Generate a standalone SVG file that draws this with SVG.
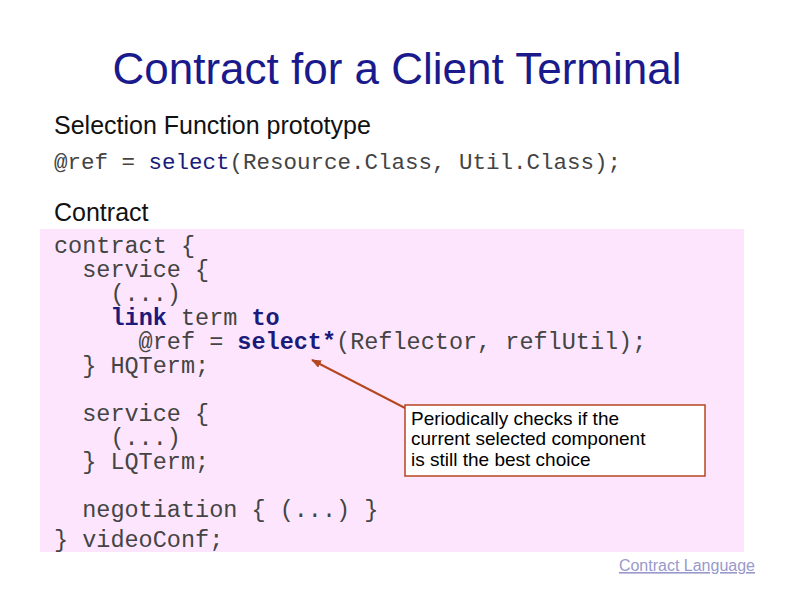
<svg xmlns="http://www.w3.org/2000/svg" width="794" height="595" viewBox="0 0 794 595">
<style>
.m{font-family:"Liberation Mono","Courier New",monospace;font-size:23.5px;fill:#444;white-space:pre}
.b{fill:#1a1a7a;font-weight:bold}
.n{fill:#1a1a7a}
.s{font-family:"Liberation Sans",Arial,sans-serif}
</style>
<defs><marker id="a" markerWidth="10" markerHeight="8" refX="9" refY="4" orient="auto" markerUnits="userSpaceOnUse"><path d="M0,0L10,4L0,8z" fill="#b5461f"/></marker></defs>
<rect width="794" height="595" fill="#fff"/>
<g id="title"><text x="397" y="84" text-anchor="middle" class="s" font-size="44" fill="#1a1a8c">Contract for a Client Terminal</text></g>
<g id="head">
<text x="54" y="134" class="s" font-size="25" fill="#111">Selection Function prototype</text>
<text x="54" y="169" class="m" style="font-size:22.5px">@ref = <tspan class="n">select</tspan>(Resource.Class, Util.Class);</text>
<text x="54" y="221" class="s" font-size="25" fill="#111">Contract</text>
</g>
<g id="code">
<rect x="40" y="229" width="704" height="323" fill="#fde6fd"/>
<text class="m"><tspan x="54" y="253">contract {</tspan><tspan x="54" y="277">  service {</tspan><tspan x="54" y="301">    (...)</tspan><tspan x="54" y="325">    <tspan class="b">link</tspan> term <tspan class="b">to</tspan></tspan><tspan x="54" y="349">      @ref = <tspan class="b">select*</tspan>(Reflector, reflUtil);</tspan><tspan x="54" y="373">  } HQTerm;</tspan><tspan x="54" y="421">  service {</tspan><tspan x="54" y="445">    (...)</tspan><tspan x="54" y="469">  } LQTerm;</tspan><tspan x="54" y="517">  negotiation { (...) }</tspan><tspan x="54" y="547">} videoConf;</tspan></text>
</g>
<g id="connectors"><line x1="405" y1="408" x2="312" y2="360" stroke="#b5461f" stroke-width="2" marker-end="url(#a)"/></g>
<g id="callout">
<rect x="405" y="405" width="300" height="71" fill="#fff" stroke="#b5461f" stroke-width="1.5"/>
<text class="s" font-size="19" fill="#000"><tspan x="411" y="425">Periodically checks if the</tspan><tspan x="411" y="445">current selected component</tspan><tspan x="411" y="466">is still the best choice</tspan></text>
</g>
<g id="footer"><text x="755" y="571" text-anchor="end" class="s" font-size="16" fill="#9999cc" text-decoration="underline">Contract Language</text></g>
</svg>
